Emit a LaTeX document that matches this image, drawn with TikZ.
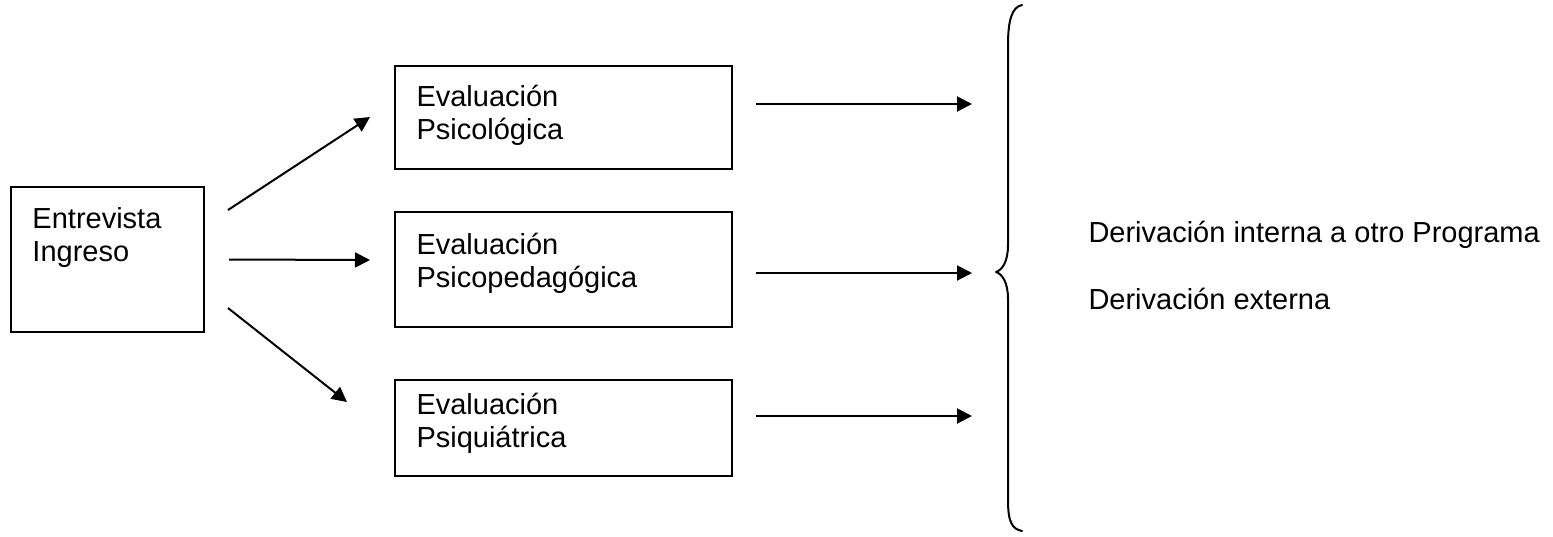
\documentclass[tikz,border=0pt]{standalone}
\usepackage{fontspec}
\setmainfont{Liberation Sans}
\usetikzlibrary{arrows.meta,calc}

\tikzset{
  box/.style={draw, line width=0.8pt, rectangle, inner sep=0pt, anchor=north west},
  txt/.style={inner sep=0pt, anchor=base west, font=\fontsize{11.6}{13.2}\selectfont},
  arr/.style={line width=0.8pt, -{Triangle[length=6pt,width=6pt]}},
  brace/.style={line width=0.8pt, line cap=round, line join=round}
}
\newcommand{\twolines}[2]{\begin{tabular}[t]{@{}l@{}}#1\\#2\end{tabular}}

\begin{document}
\begin{tikzpicture}[x=0.4pt, y=-0.4pt]
  \useasboundingbox (0,0) rectangle (1553,536);

  % boxes
  \node[box, minimum width=77.2pt, minimum height=58pt]  (e)  at (10,186)  {};
  \node[box, minimum width=134.8pt, minimum height=41.2pt] (b1) at (394,65)  {};
  \node[box, minimum width=134.8pt, minimum height=46pt]   (b2) at (394,211) {};
  \node[box, minimum width=134.8pt, minimum height=38.4pt] (b3) at (394,379) {};

  % box texts
  \node[txt] (te) at ($(e.north west)+(22,42)$)  {\twolines{Entrevista}{Ingreso}};
  \node[txt] (t1) at ($(b1.north west)+(22,41)$) {\twolines{Evaluación}{Psicológica}};
  \node[txt] (t2) at ($(b2.north west)+(22,43)$) {\twolines{Evaluación}{Psicopedagógica}};
  \node[txt] (t3) at ($(b3.north west)+(22,35)$) {\twolines{Evaluación}{Psiquiátrica}};

  % outcomes
  \node[txt] (d1) at (1088,242) {Derivación interna a otro Programa};
  \node[txt] (d2) at (1088,309) {Derivación externa};

  % arrows from the intake interview
  \draw[arr] ($(e.north east)+(23,24)$) -- ($(b1.south west)+(-24,-53)$);
  \draw[arr] ($(e.east)+(24,0)$) -- ($(b2.west)+(-24,-9.5)$);
  \draw[arr] ($(e.south east)+(23,-25)$) -- ($(b3.north west)+(-47,23)$);

  % arrows towards the brace
  \draw[arr] ($(b1.east)+(23,-13.5)$) -- ($(b1.east)+(239,-13.5)$);
  \draw[arr] ($(b2.east)+(23,3.5)$) -- ($(b2.east)+(239,3.5)$);
  \draw[arr] ($(b3.east)+(23,-12)$) -- ($(b3.east)+(239,-12)$);

  % curly brace
  \draw[brace] (1022,5) .. controls (1012,7) and (1008,20) .. (1008,45)
    -- (1008,245) .. controls (1008,262) and (1002,270) .. (996,272)
    .. controls (1002,274) and (1008,282) .. (1008,299)
    -- (1008,500) .. controls (1008,522) and (1012,529) .. (1022,531);
\end{tikzpicture}
\end{document}
